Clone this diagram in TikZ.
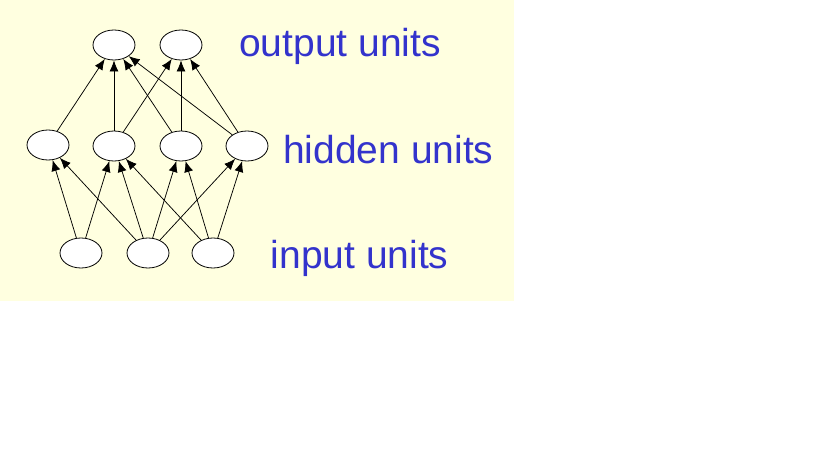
\documentclass[tikz,border=0pt]{standalone}
\usepackage{fontspec}
\setmainfont{Liberation Sans}
\usetikzlibrary{arrows.meta,shapes.geometric}
\definecolor{bgyellow}{RGB}{255,255,224}
\definecolor{labelblue}{RGB}{51,51,204}
\begin{document}
\begin{tikzpicture}[x=1pt,y=-1pt,
  unit/.style={draw=black,line width=0.8pt,fill=white,shape=ellipse,minimum width=42pt,minimum height=30pt,inner sep=0pt},
  conn/.style={line width=0.75pt,-{Latex[length=11pt,width=9pt]}},
  lbl/.style={anchor=base west,inner sep=0pt,text=labelblue,font=\fontsize{39pt}{46pt}\selectfont}]
\useasboundingbox (0,0) rectangle (819,460);
\fill[bgyellow] (0,0) rectangle (514,301);
% output units
\node[unit] (o1) at (114,45) {};
\node[unit] (o2) at (181,45) {};
% hidden units
\node[unit] (h1) at (48,145) {};
\node[unit] (h2) at (114,146) {};
\node[unit] (h3) at (181,146) {};
\node[unit] (h4) at (247,146) {};
% input units
\node[unit] (i1) at (81,253) {};
\node[unit] (i2) at (148,253) {};
\node[unit] (i3) at (213,253) {};
% hidden -> output
\draw[conn] (h1) -- (o1);
\draw[conn] (h2) -- (o1);
\draw[conn] (h3) -- (o1);
\draw[conn] (h4) -- (o1);
\draw[conn] (h2) -- (o2);
\draw[conn] (h3) -- (o2);
\draw[conn] (h4) -- (o2);
% input -> hidden
\draw[conn] (i1) -- (h1);
\draw[conn] (i1) -- (h2);
\draw[conn] (i2) -- (h1);
\draw[conn] (i2) -- (h2);
\draw[conn] (i2) -- (h3);
\draw[conn] (i2) -- (h4);
\draw[conn] (i3) -- (h2);
\draw[conn] (i3) -- (h3);
\draw[conn] (i3) -- (h4);
% labels
\node[lbl] (lo) at (239,56.7) {output units};
\node[lbl] (lh) at (283,163.3) {hidden units};
\node[lbl] (li) at (270.5,268.3) {input units};
\end{tikzpicture}
\end{document}
